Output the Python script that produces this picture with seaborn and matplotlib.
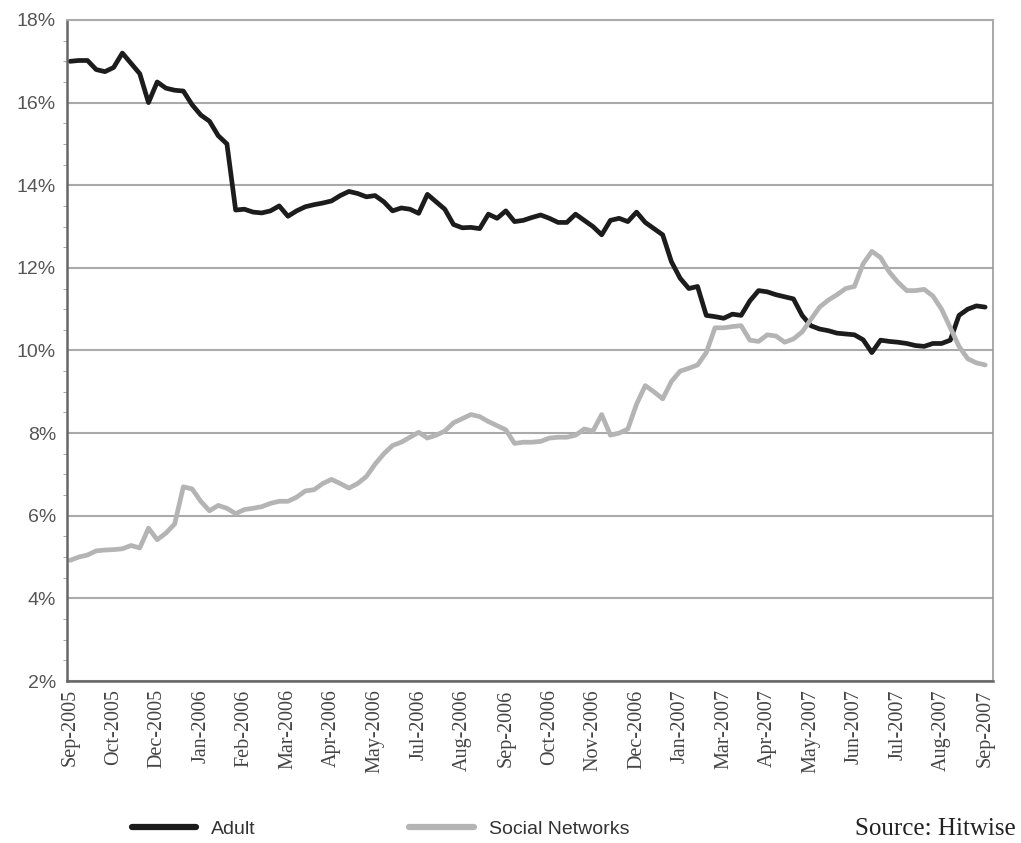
import numpy as np
import pandas as pd
import seaborn as sns
import matplotlib.pyplot as plt
from matplotlib.ticker import FuncFormatter, MultipleLocator
from matplotlib.lines import Line2D

# Data mingguan, % kunjungan
adult = [
    17.0, 17.02, 17.02, 16.8, 16.75, 16.85, 17.2, 16.95, 16.7, 16.0,
    16.5, 16.35, 16.3, 16.28, 15.95, 15.7, 15.55, 15.2, 15.0, 13.4,
    13.42, 13.35, 13.33, 13.38, 13.5, 13.25, 13.38, 13.48, 13.53, 13.57,
    13.62, 13.75, 13.85, 13.8, 13.72, 13.75, 13.6, 13.38, 13.45, 13.42,
    13.32, 13.78, 13.6, 13.42, 13.05, 12.97, 12.98, 12.95, 13.3, 13.2,
    13.38, 13.12, 13.15, 13.22, 13.28, 13.2, 13.1, 13.1, 13.3, 13.15,
    13.0, 12.8, 13.15, 13.2, 13.12, 13.35, 13.1, 12.95, 12.8, 12.15,
    11.75, 11.5, 11.55, 10.85, 10.82, 10.78, 10.88, 10.85, 11.2, 11.45,
    11.42, 11.35, 11.3, 11.25, 10.85, 10.6, 10.52, 10.48, 10.42, 10.4,
    10.38, 10.26, 9.95, 10.25, 10.22, 10.2, 10.17, 10.12, 10.1, 10.17,
    10.17, 10.25, 10.85, 11.0, 11.08, 11.05,
]
social = [
    4.92, 5.0, 5.05, 5.15, 5.17, 5.18, 5.2, 5.28, 5.22, 5.7,
    5.42, 5.58, 5.8, 6.7, 6.65, 6.35, 6.12, 6.25, 6.18, 6.05,
    6.15, 6.18, 6.22, 6.3, 6.35, 6.35, 6.45, 6.6, 6.63, 6.78,
    6.88, 6.78, 6.67, 6.78, 6.95, 7.25, 7.5, 7.7, 7.78, 7.9,
    8.02, 7.88, 7.95, 8.05, 8.25, 8.35, 8.45, 8.4, 8.28, 8.18,
    8.08, 7.75, 7.78, 7.78, 7.8, 7.88, 7.9, 7.9, 7.95, 8.1,
    8.05, 8.45, 7.95, 8.0, 8.1, 8.7, 9.15, 9.0, 8.83, 9.25,
    9.5, 9.57, 9.65, 9.95, 10.55, 10.55, 10.58, 10.6, 10.25, 10.22,
    10.38, 10.35, 10.2, 10.28, 10.45, 10.75, 11.05, 11.22, 11.35, 11.5,
    11.55, 12.1, 12.4, 12.25, 11.9, 11.65, 11.45, 11.45, 11.48, 11.32,
    11.0, 10.55, 10.1, 9.8, 9.7, 9.65,
]
tick_labels = [
    "Sep-2005", "Oct-2005", "Dec-2005", "Jan-2006", "Feb-2006", "Mar-2006",
    "Apr-2006", "May-2006", "Jul-2006", "Aug-2006", "Sep-2006", "Oct-2006",
    "Nov-2006", "Dec-2006", "Jan-2007", "Mar-2007", "Apr-2007", "May-2007",
    "Jun-2007", "Jul-2007", "Aug-2007", "Sep-2007",
]
series_names = ["Adult", "Social Networks"]
warna = {"Adult": "#1c1c1c", "Social Networks": "#b4b4b4"}

minggu = np.arange(len(adult))
df = pd.DataFrame({
    "minggu": np.concatenate([minggu, minggu]),
    "nilai": adult + social,
    "seri": [series_names[0]] * len(adult) + [series_names[1]] * len(social),
})

sns.set_style("white")
plt.rcParams['font.family'] = ['Liberation Sans', 'DejaVu Sans']

fig = plt.figure(figsize=(10.21, 8.43), dpi=100)
ax = fig.add_axes([67 / 1021, 1 - 681 / 843, 926 / 1021, 661 / 843])

sns.lineplot(data=df, x="minggu", y="nilai", hue="seri", palette=warna,
             linewidth=3.4, ax=ax, legend=False)

ax.set_ylim(2, 18)
ax.set_xlim(-0.35, 105.9)
ax.yaxis.set_major_locator(MultipleLocator(2))
ax.yaxis.set_minor_locator(MultipleLocator(0.5))
ax.yaxis.set_major_formatter(FuncFormatter(lambda v, p: f"{v:.0f}%"))
ax.set_xticks(np.arange(0, 106, 5))
ax.set_xticklabels(tick_labels, rotation=90, family=['Liberation Serif'], fontsize=14.5, color="#444444")
ax.tick_params(axis="y", which="major", length=5, color="#777777", labelsize=14, labelcolor="#555555", pad=3)
ax.tick_params(axis="y", which="minor", length=3, color="#999999", left=True)
ax.tick_params(axis="x", length=0, pad=6)
ax.grid(axis="y", which="major", color="#aaaaaa", linewidth=1.5)
ax.set_axisbelow(True)
ax.set_xlabel("")
ax.set_ylabel("")

for side in ["left", "bottom"]:
    ax.spines[side].set_color("#666666")
    ax.spines[side].set_linewidth(1.8)
ax.spines["right"].set_color("#999999")
ax.spines["right"].set_linewidth(1.2)
ax.spines["top"].set_color("#aaaaaa")
ax.spines["top"].set_linewidth(1.5)

# Legenda di bawah
handles = [Line2D([], [], color=warna[n], linewidth=4.5) for n in series_names]
fig.legend(handles, series_names, loc="center left",
           bbox_to_anchor=(114 / 1021, 1 - 829 / 843), ncol=2, frameon=False,
           fontsize=14, handlelength=3.3, columnspacing=7.9, handletextpad=0.8,
           labelcolor="#333333")

fig.text(1016 / 1021, 1 - 829 / 843, "Source: Hitwise", ha="right", va="center",
         family=['Liberation Serif'], fontsize=18, color="#222222")

fig.savefig("out.png", dpi=100, facecolor="white")
